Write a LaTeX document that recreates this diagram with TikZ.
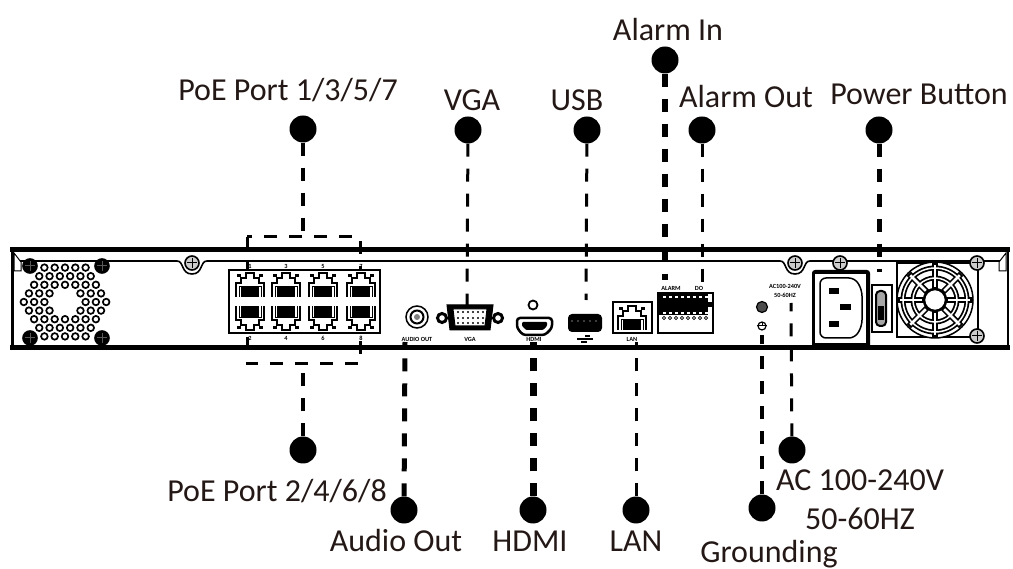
\documentclass[tikz,border=0pt]{standalone}
\usepackage{fontspec}
\setmainfont{Carlito}
\usepackage{xcolor}
\usetikzlibrary{calc}
\definecolor{labelink}{HTML}{231815}
\newcommand{\rjport}[3]{%
  \begin{scope}[shift={(#1,#2)},yscale=#3]
    \draw[line width=1.3pt] (-14,12) -- (-14,-2) -- (-9,-2) -- (-9,-7) -- (-4,-7) -- (-4,-12)
      -- (4,-12) -- (4,-7) -- (9,-7) -- (9,-2) -- (14,-2) -- (14,12);
    \draw[line width=.7pt] (-11,12) -- (-11,1) -- (11,1) -- (11,12);
    \fill (-9,1) rectangle (9,12);
    \fill (-13,-11) rectangle (-9,-8);
    \fill (9,-11) rectangle (13,-8);
  \end{scope}}
\newcommand{\screwmark}[4]{%
  \draw[line width=1.6pt,fill=#3] (#1,#2) circle (7);
  \draw[line width=1pt,#4] (#1-5,#2) -- (#1+5,#2) (#1,#2-5) -- (#1,#2+5);}
\begin{document}
\begin{tikzpicture}[
  x=1pt, y=-1pt,
  font=\fontsize{32}{34}\selectfont,
  dot/.style={circle, fill=black, minimum size=27pt, inner sep=0pt},
  lbl/.style={inner sep=0pt, anchor=center, text=labelink},
  tiny/.style={inner sep=0pt, font=\fontsize{6.3}{6.3}\selectfont\bfseries},
  lead/.style={dash pattern=on 13pt off 12pt},
  shell/.style={line width=5pt, line cap=butt},
  unit/.style={draw, line width=1.5pt, fill=white}
]
\useasboundingbox (0,0) rectangle (1013,569);
% chassis
\draw[shell] (10,250) -- (1010,250);
\draw[shell] (10,348) -- (1010,348);
\draw[line width=3pt] (12,248) -- (12,350);
\draw[line width=2pt] (1008,248) -- (1008,350);
\draw[line width=1.6pt] (14,261) -- (177,261) .. controls (184,261) and (181,274) .. (192,274)
  .. controls (203,274) and (200,261) .. (207,261) -- (780,261)
  .. controls (787,261) and (784,274) .. (795,274) .. controls (806,274) and (803,261) .. (810,261) -- (1002,261);
\draw[line width=1pt,fill=white] (14,253) -- (14,271) -- (21,271) -- (21,262) -- cycle;
\draw[line width=1pt,fill=white] (1006,253) -- (1006,271) -- (999,271) -- (999,262) -- cycle;
% grille
\foreach \j in {-4,...,4}{
  \pgfmathtruncatemacro{\cnt}{8-abs(\j)}
  \foreach \i in {0,...,\cnt}{
    \pgfmathsetmacro{\offs}{(\i-\cnt/2)*10.3}
    \pgfmathsetmacro{\dist}{sqrt(\offs*\offs+8.6*8.6*\j*\j)}
    \ifdim\dist pt>17pt
      \draw[line width=1.7pt] (65+\offs,302+8.6*\j) circle (3.3);
    \fi
  }
}
\foreach \sx/\sy in {30/266,102/266,30/338,102/338}{
  \screwmark{\sx}{\sy}{black}{black!65}
}
\screwmark{192}{263}{black!20}{black}
\screwmark{795}{263}{black!20}{black}
\screwmark{840}{263}{black!20}{black}
% poe block
\draw[line width=3pt,lead] (247,237) rectangle (360,364);
\draw[unit] (229,270) rectangle (380,333);
\foreach \px in {250,286,323,361}{
  \rjport{\px}{285}{1}
  \rjport{\px}{318}{-1}
}
\foreach \px/\ptxt in {250/2,286/4,323/6,361/8}{
  \node[tiny] at (\px,338) {\ptxt};
}
\foreach \px/\ptxt in {250/1,286/3,323/5,361/7}{
  \node[tiny] at (\px,266) {\ptxt};
}
\coordinate (poeTop) at (303,237);
\coordinate (poeBot) at (303,364);
% audio, vga
\draw[line width=1.5pt,fill=white] (417,317) circle (11);
\draw[line width=2pt] (417,317) circle (6.5);
\fill[gray] (417,317) circle (3);
\node[tiny] (audioTag) at (417,339) {AUDIO OUT};
\coordinate (audioEnd) at (405,342);
\draw[line width=3pt] (442,318) circle (4.5);
\draw[line width=3pt] (498,318) circle (4.5);
\draw[line width=1pt,fill=black] (447,305) -- (493,305) -- (490,330) -- (450,330) -- cycle;
\draw[line width=1pt,fill=white] (453,309) -- (487,309) -- (485,326) -- (455,326) -- cycle;
\foreach \vx in {458,463,...,483}{
  \fill (\vx,312) circle (1.2);
  \fill (\vx,318) circle (1.2);
  \fill (\vx,323) circle (1.2);
}
\node[tiny] (vgaTag) at (470,339) {VGA};
\coordinate (vgaEnd) at (467,305);
% hdmi
\draw[line width=1.8pt] (533,305) circle (4.5);
\draw[line width=2.5pt,rounded corners=3pt] (517,318) -- (552,318) -- (552,328) -- (545,335) -- (523,335) -- (517,328) -- cycle;
\fill[rounded corners=1pt] (522,322) -- (547,322) -- (547,326) -- (543,330) -- (526,330) -- (522,326) -- cycle;
\node[tiny] (hdmiTag) at (534,339) {HDMI};
\coordinate (hdmiEnd) at (533,342);
% usb
\fill[rounded corners=4pt] (568,314) rectangle (602,332);
\foreach \ux in {572,578,...,598}{
  \fill[white] (\ux,321) circle (.6);
}
\draw[line width=1.2pt] (577,339) -- (593,339) (585,336) -- (590,336) (581,342) -- (587,342);
\coordinate (usbEnd) at (586,300);
% lan
\draw[line width=2pt] (613,302) rectangle (652,333);
\rjport{632}{318}{1}
\node[tiny] (lanTag) at (632,339) {LAN};
\coordinate (lanEnd) at (636,342);
% alarm terminal
\draw[line width=1.5pt] (658,293) rectangle (713,333);
\fill (658,293) rectangle (708,315);
\fill (708,302) rectangle (713,307);
\foreach \tx in {663,669,...,705}{
  \fill[white] (\tx,296) rectangle +(3,2);
  \fill[white] (\tx,312) rectangle +(3,2);
  \draw[line width=.7pt] (\tx+1,318) circle (1.6);
}
\node[tiny] (alarmTag) at (671,288) {ALARM};
\node[tiny] (doTag) at (699,288) {DO};
\coordinate (alarmInEnd) at (665,280);
\coordinate (alarmOutEnd) at (702,282);
% ac and grounding
\node[tiny] (acTag) at (785,286) {AC100-240V};
\node[tiny] (hzTag) at (785,295) {50-60HZ};
\draw[line width=1.2pt,fill=black!70] (762,307) circle (5.5);
\draw[line width=1.2pt] (762,326) circle (4);
\draw[line width=1pt] (757,326) -- (767,326) (762,322) -- (762,326);
\coordinate (groundEnd) at (762,335);
\coordinate (acEnd) at (791,303);
% power inlet
\fill[rounded corners=3pt] (812,270) rectangle (870,350);
\fill[white] (815,274) rectangle (866,343);
\draw[line width=1.5pt,rounded corners=6pt] (820,278) -- (855,278) -- (862,290) -- (862,326) -- (855,338) -- (820,338) -- cycle;
\fill (829,288) rectangle (839,294);
\fill (840,304) rectangle (851,310);
\fill (829,321) rectangle (839,327);
\draw[line width=1.3pt] (872,285) rectangle (892,332);
\draw[line width=2pt,rounded corners=4pt,fill=black!35] (876,291) rectangle (886,326);
\fill (878,306) rectangle (884,320);
\coordinate (powerEnd) at (879,272);
% fan
\draw[line width=2pt] (897,263) rectangle (978,337);
\draw[line width=1.5pt,fill=white] (935,300) circle (38);
\foreach \ang in {0,45,...,315}{
  \draw[line width=6pt] ($(935,300)+(\ang:11)$) -- ($(935,300)+(\ang:37)$);
}
\foreach \rad/\wdt in {32/5,22/5}{
  \draw[line width=\wdt pt] (935,300) circle (\rad);
}
\foreach \ang in {0,45,...,315}{
  \draw[line width=2.5pt,white] ($(935,300)+(\ang:13)$) -- ($(935,300)+(\ang:35)$);
}
\foreach \rad in {32,22}{
  \draw[line width=1.5pt,white] (935,300) circle (\rad);
}
\draw[line width=2.5pt,fill=white] (935,300) circle (11);
\screwmark{977}{263}{black!20}{black}
\screwmark{977}{336}{black!20}{black}
% callout dots
\node[dot] (poeOdd) at (303,129) {};
\node[dot] (vgaDot) at (468,130) {};
\node[dot] (usbDot) at (587,130) {};
\node[dot] (alarmInDot) at (665,60) {};
\node[dot] (alarmOutDot) at (702,130) {};
\node[dot] (powerDot) at (879,130) {};
\node[dot] (poeEven) at (303,450) {};
\node[dot] (audioDot) at (404,510) {};
\node[dot] (hdmiDot) at (533,510) {};
\node[dot] (lanDot) at (636,510) {};
\node[dot] (groundDot) at (762,508) {};
\node[dot] (acDot) at (792,450) {};
% leaders
\draw[line width=3.5pt,lead] (poeOdd) -- (poeTop);
\draw[line width=3pt,lead] (vgaDot) -- (vgaEnd);
\draw[line width=3pt,lead] (usbDot) -- (usbEnd);
\draw[line width=6pt,lead] (alarmInDot) -- (alarmInEnd);
\draw[line width=3pt,lead] (alarmOutDot) -- (alarmOutEnd);
\draw[line width=5pt,lead] (powerDot) -- (powerEnd);
\draw[line width=4pt,lead] (poeEven) -- (poeBot);
\draw[line width=5pt,lead] (audioDot) -- (audioEnd);
\draw[line width=7pt,lead] (hdmiDot) -- (hdmiEnd);
\draw[line width=3pt,lead] (lanDot) -- (lanEnd);
\draw[line width=4pt,lead] (groundDot) -- (groundEnd);
\draw[line width=3pt,lead] (acDot) -- (acEnd);
% labels
\node[lbl] (poeOddLbl) at (288,90) {PoE Port 1/3/5/7};
\node[lbl] (vgaLbl) at (472,100) {VGA};
\node[lbl] (usbLbl) at (577,100) {USB};
\node[lbl] (alarmInLbl) at (668,30) {Alarm In};
\node[lbl] (alarmOutLbl) at (746,97) {Alarm Out};
\node[lbl] (powerLbl) at (919,94) {Power Button};
\node[lbl] (poeEvenLbl) at (277,491) {PoE Port 2/4/6/8};
\node[lbl] (audioLbl) at (396,541) {Audio Out};
\node[lbl] (hdmiLbl) at (530,541) {HDMI};
\node[lbl] (lanLbl) at (636,541) {LAN};
\node[lbl] (groundLbl) at (769,554) {Grounding};
\node[lbl] (acLbl) at (860,480) {AC 100-240V};
\node[lbl] (hzLbl) at (860,519) {50-60HZ};
\end{tikzpicture}
\end{document}
